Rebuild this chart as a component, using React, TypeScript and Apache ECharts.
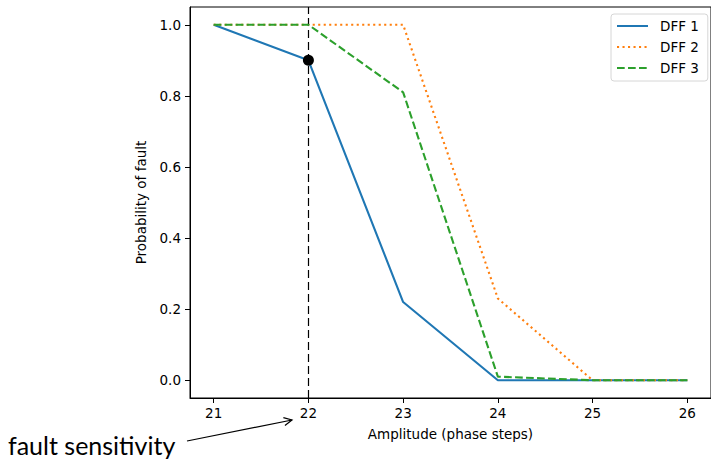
import React, { useEffect, useRef } from "react";
import * as echarts from "echarts";

const amplitudes = [21, 22, 23, 24, 25, 26];
const dff1 = [1.0, 0.9, 0.22, 0.0, 0.0, 0.0];
const dff2 = [1.0, 1.0, 1.0, 0.23, 0.0, 0.0];
const dff3 = [1.0, 1.0, 0.81, 0.01, 0.0, 0.0];
const xTicks = [21, 22, 23, 24, 25, 26];
const yTicks = [0, 0.2, 0.4, 0.6, 0.8, 1.0];
const markerPoint = [22, 0.9];
const vlineX = 22;

const FONT = "DejaVu Sans";

export default function App() {
  const ref = useRef<HTMLDivElement>(null);
  useEffect(() => {
    const chart = echarts.init(ref.current!, null, { renderer: "svg" });
    const pair = (ys: number[]) => amplitudes.map((x, i) => [x, ys[i]]);

    // arrow geometry (annotation)
    const sx = 187, sy = 441, ex = 292, ey = 420;
    const dx = ex - sx, dy = ey - sy;
    const len = Math.hypot(dx, dy);
    const ux = dx / len, uy = dy / len;
    const hl = 8, hw = 4;
    const bx = ex - ux * hl, by = ey - uy * hl;
    const p1 = [bx - uy * hw, by + ux * hw];
    const p2 = [bx + uy * hw, by - ux * hw];

    chart.setOption({
      animation: false,
      textStyle: { fontFamily: FONT, color: "#000" },
      grid: {
        left: 190,
        top: 7,
        width: 524,
        height: 391,
        show: true,
        borderColor: "#000",
        borderWidth: 1,
        backgroundColor: "transparent",
      },
      xAxis: {
        type: "value",
        min: 20.75,
        max: 26.25,
        name: "Amplitude (phase steps)",
        nameLocation: "middle",
        nameGap: 29,
        nameTextStyle: { fontSize: 13.5, color: "#000", fontFamily: FONT },
        axisLine: { show: true, onZero: false, lineStyle: { color: "#000", width: 1 } },
        axisTick: { show: true, inside: false, length: 5, customValues: xTicks, lineStyle: { color: "#000" } },
        axisLabel: {
          customValues: xTicks,
          margin: 8,
          fontSize: 13.5,
          color: "#000",
          fontFamily: FONT,
        },
        splitLine: { show: false },
      },
      yAxis: {
        type: "value",
        min: -0.05,
        max: 1.05,
        name: "Probability of fault",
        nameLocation: "middle",
        nameGap: 42,
        nameTextStyle: { fontSize: 13.5, color: "#000", fontFamily: FONT },
        axisLine: { show: true, onZero: false, lineStyle: { color: "#000", width: 1 } },
        axisTick: { show: true, inside: false, length: 5, customValues: yTicks, lineStyle: { color: "#000" } },
        axisLabel: {
          customValues: yTicks,
          margin: 9,
          fontSize: 13.5,
          color: "#000",
          fontFamily: FONT,
          formatter: (v: number) => v.toFixed(1),
        },
        splitLine: { show: false },
      },
      legend: {
        left: 611,
        top: 14,
        orient: "vertical",
        itemWidth: 31,
        itemHeight: 14,
        itemGap: 7,
        padding: [5, 9, 6, 5],
        backgroundColor: "#fff",
        borderColor: "#d6d6d6",
        borderWidth: 1,
        borderRadius: 3,
        itemStyle: { opacity: 0, borderWidth: 0 },
        textStyle: { fontSize: 13.5, color: "#000", fontFamily: FONT, padding: [0, 0, 0, 7] },
        data: ["DFF 1", "DFF 2", "DFF 3"],
      },
      graphic: [
        {
          type: "text",
          left: 8,
          top: 432,
          style: { text: "fault sensitivity", fontSize: 25, fontFamily: "Lato", fill: "#000" },
        },
        {
          type: "line",
          shape: { x1: sx, y1: sy, x2: ex, y2: ey },
          style: { stroke: "#000", lineWidth: 1.2 },
        },
        {
          type: "polyline",
          shape: { points: [p1, [ex, ey], p2] },
          style: { stroke: "#000", lineWidth: 1.2, fill: null },
        },
      ],
      series: [
        {
          name: "DFF 1",
          type: "line",
          data: pair(dff1),
          symbol: "none",
          lineStyle: { color: "#1f77b4", width: 2.1, type: "solid" },
          itemStyle: { color: "#1f77b4" },
          z: 3,
        },
        {
          name: "DFF 2",
          type: "line",
          data: pair(dff2),
          symbol: "none",
          lineStyle: { color: "#ff7f0e", width: 2.1, type: [2.1, 3.4] },
          itemStyle: { color: "#ff7f0e" },
          z: 4,
        },
        {
          name: "DFF 3",
          type: "line",
          data: pair(dff3),
          symbol: "none",
          lineStyle: { color: "#2ca02c", width: 2.1, type: [7.7, 3.3] },
          itemStyle: { color: "#2ca02c" },
          z: 5,
          markLine: {
            silent: true,
            symbol: "none",
            label: { show: false },
            lineStyle: { color: "#000", width: 1.2, type: [8, 4] },
            data: [{ xAxis: vlineX }],
          },
        },
        {
          name: "marker",
          type: "scatter",
          data: [markerPoint],
          symbol: "circle",
          symbolSize: 11,
          itemStyle: { color: "#000", opacity: 1 },
          z: 10,
        },
      ],
    });
    return () => chart.dispose();
  }, []);
  return (
    <div
      ref={ref}
      style={{ position: "fixed", left: 0, top: 0, width: 711, height: 461, background: "#fff" }}
    />
  );
}
